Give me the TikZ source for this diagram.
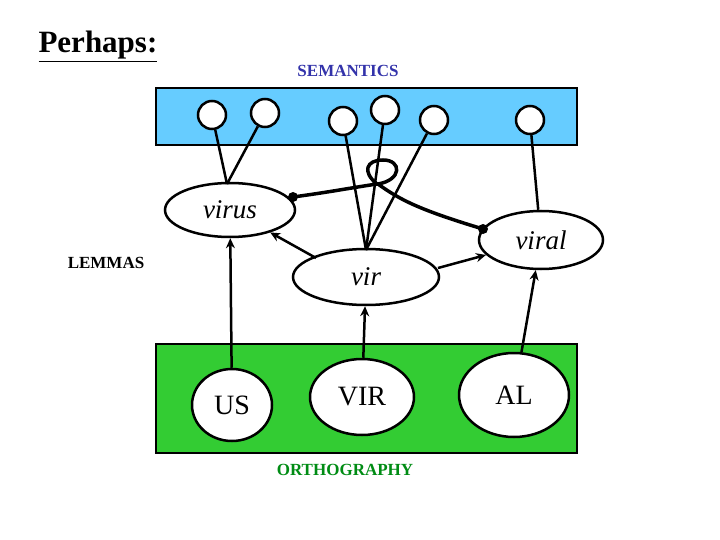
\documentclass[tikz,border=0pt]{standalone}
\usepackage{fontspec}
\setmainfont{Liberation Serif}
\usetikzlibrary{shapes.geometric,arrows.meta}
\begin{document}
\begin{tikzpicture}[x=1pt,y=-1pt,
  sem/.style={circle,draw,line width=2.5pt,fill=white,minimum size=28pt,inner sep=0},
  lem/.style={ellipse,draw,line width=2.5pt,fill=white,inner sep=0,font=\itshape\fontsize{27}{27}\selectfont},
  orth/.style={ellipse,draw,line width=2.5pt,fill=white,inner sep=0,font=\fontsize{28}{28}\selectfont},
  ln/.style={line width=2.5pt},
  arr/.style={line width=2.5pt,-{Stealth[length=10pt,width=9pt]}},
  lab/.style={font=\bfseries\fontsize{17}{17}\selectfont}]
\useasboundingbox (0,0) rectangle (720,540);
\definecolor{semblue}{RGB}{51,51,170}
\definecolor{orthgreen}{RGB}{0,140,20}
\node[anchor=base west,font=\bfseries\fontsize{31}{31}\selectfont] (perhaps) at (35,53) {\underline{Perhaps:}};
\node[lab,text=semblue] (semantics) at (348,71) {SEMANTICS};
\node[lab] (lemmas) at (106,263) {LEMMAS};
\node[lab,text=orthgreen] (orthography) at (345,470) {ORTHOGRAPHY};
\node[draw,line width=2.5pt,fill={rgb,255:red,102;green,204;blue,255},minimum width=421pt,minimum height=57pt] (semrect) at (366.5,116.5) {};
\node[draw,line width=2.5pt,fill={rgb,255:red,51;green,204;blue,51},minimum width=421pt,minimum height=109pt] (orthrect) at (366.5,398.5) {};
\node[sem] (s1) at (212,115) {};
\node[sem] (s2) at (265,113) {};
\node[sem] (s3) at (343,121) {};
\node[sem] (s4) at (385,110) {};
\node[sem] (s5) at (434,120) {};
\node[sem] (s6) at (530,120) {};
\node[lem,minimum width=130pt,minimum height=54pt] (virus) at (230,210) {virus};
\node[lem,minimum width=146pt,minimum height=56pt] (vir) at (366,277) {vir};
\node[lem,minimum width=124pt,minimum height=58pt] (viral) at (541,240) {viral};
\node[orth,minimum width=80pt,minimum height=72pt] (us) at (232,405) {US};
\node[orth,minimum width=104pt,minimum height=76pt] (VIR) at (362,397) {VIR};
\node[orth,minimum width=110pt,minimum height=84pt] (al) at (514,395) {AL};
\coordinate (vt) at (366,250);
\coordinate (ust) at (227,184);
\coordinate (virl) at (316,258);
\coordinate (virr) at (438,268);
\draw[ln] (s1) -- (ust);
\draw[ln] (s2) -- (ust);
\draw[ln] (s3) -- (vt);
\draw[ln] (s4) -- (vt);
\draw[ln] (s5) -- (vt);
\draw[ln] (s6) -- (viral);
\coordinate (d1) at (293,197);
\coordinate (d2) at (483,229);
\coordinate (x) at (377,184);
\draw[line width=3.5pt] (d1) .. controls (330,192) and (350,188) .. (x)
  .. controls (362,172) and (366,160) .. (383,160)
  .. controls (402,160) and (402,180) .. (378,184)
  .. controls (400,200) and (420,210) .. (d2);
\fill (d1) circle (5pt);
\fill (d2) circle (5pt);
\draw[arr] (us) -- (virus);
\draw[arr] (virl) -- (virus);
\draw[arr] (virr) -- (viral);
\draw[arr] (VIR) -- (vir);
\draw[arr] (al) -- (viral);
\end{tikzpicture}
\end{document}
